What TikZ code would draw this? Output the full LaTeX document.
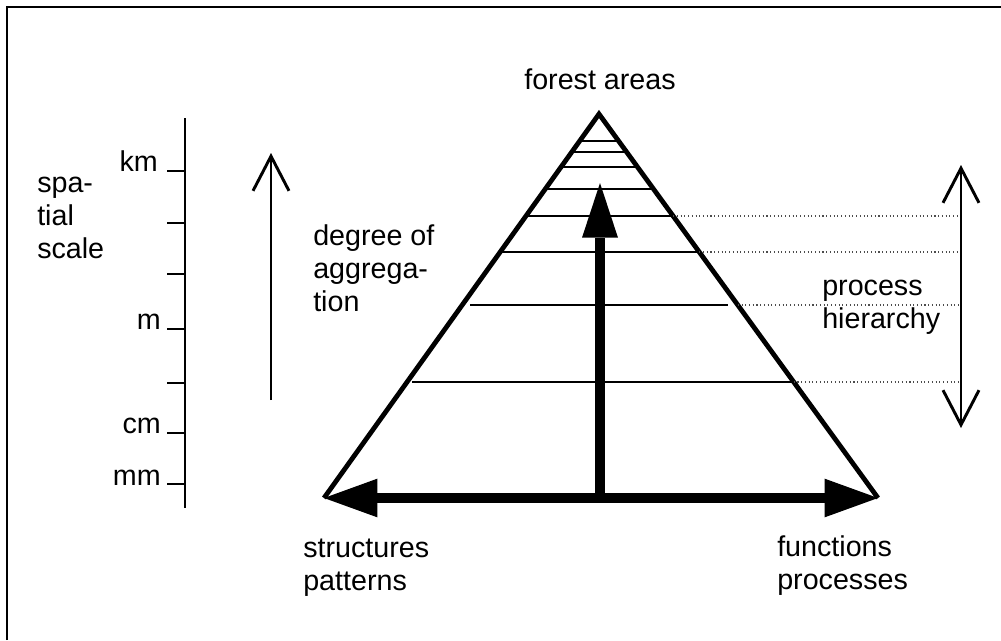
\documentclass[tikz,border=0pt]{standalone}
\usepackage{fontspec}
\setmainfont{Liberation Sans}
\usetikzlibrary{arrows.meta,calc}
\begin{document}
\begin{tikzpicture}[x=0.75pt,y=-0.75pt,
  lbl/.style={font=\fontsize{21.5}{24.75}\selectfont, inner sep=0pt, align=left},
  frame/.style={line width=1.9pt},
  tri/.style={line width=3.6pt, line join=miter},
  rung/.style={line width=1.6pt},
  dots/.style={line width=0.8pt, dotted, black!70},
  bigarrow/.style={line width=8pt},
  thinarrow/.style={line width=2.2pt},
  scaleline/.style={line width=1.9pt},
  barb/.tip={Straight Barb[length=26pt,width=27pt]}]
\useasboundingbox (0,0) rectangle (1001,640);
% frame
\draw[frame] (7,640) -- (7,7) -- (1001,7);
% triangle
\coordinate (A) at (599,114);
\coordinate (L) at (324,498);
\coordinate (R) at (878,498);
\coordinate (O) at (600,498);
\coordinate (T) at (600,183);
\coordinate (H) at (959,0);
\draw[tri] (L) -- (A) -- (R);
% rungs edge to edge
\foreach \f in {0.0703,0.0990,0.1380,0.1953,0.2656,0.3594}
  \draw[rung] ($(A)!\f!(L)$) -- ($(A)!\f!(R)$);
\draw[rung, shorten <=6pt, shorten >=7pt] ($(A)!0.4974!(L)$) -- ($(A)!0.4974!(R)$);
\draw[rung, shorten <=4pt] ($(A)!0.6979!(L)$) -- ($(A)!0.6979!(R)$);
% dotted extensions
\foreach \f in {0.2656,0.3594,0.4974,0.6979}{
  \path ($(A)!\f!(R)$) coordinate (e);
  \draw[dots] (e) -- (e -| H);
}
% big arrows
\draw[bigarrow, -{Triangle[length=41pt,width=27pt,line width=0pt]}] (O) -- (T);
\draw[bigarrow, -{Triangle[length=40pt,width=29pt,line width=0pt]}] (O) -- (L);
\draw[bigarrow, -{Triangle[length=40pt,width=29pt,line width=0pt]}] (O) -- (R);
% degree of aggregation arrow
\coordinate (U0) at (271,400);
\coordinate (U1) at (271,153);
\draw[thinarrow, -barb] (U0) -- (U1);
% process hierarchy arrow
\coordinate (P0) at (961,165);
\coordinate (P1) at (961,428);
\draw[thinarrow, barb-barb] (P0) -- (P1);
% spatial scale
\coordinate (S0) at (185,118);
\coordinate (S1) at (185,508);
\draw[scaleline] (S0) -- (S1);
\foreach \y in {171,223,274,329,383,433,484}
  \draw[scaleline] (167,\y) -- (185,\y);
\node[lbl, anchor=base east] (km) at (158,171) {km};
\node[lbl, anchor=base east] (m) at (161,329) {m};
\node[lbl, anchor=base east] (cm) at (161,433) {cm};
\node[lbl, anchor=base east] (mm) at (161,485) {mm};
% labels (base anchor = last line)
\node[lbl, anchor=base] (fa) at (600,89) {forest areas};
\node[lbl, anchor=base west] (ss) at (37,258) {spa-\\tial\\scale};
\node[lbl, anchor=base west] (da) at (313,311) {degree of\\aggrega-\\tion};
\node[lbl, anchor=base west] (ph) at (822,328) {process\\hierarchy};
\node[lbl, anchor=base west] (sp) at (303,590) {structures\\patterns};
\node[lbl, anchor=base west] (fp) at (777,589) {functions\\processes};
\end{tikzpicture}
\end{document}
